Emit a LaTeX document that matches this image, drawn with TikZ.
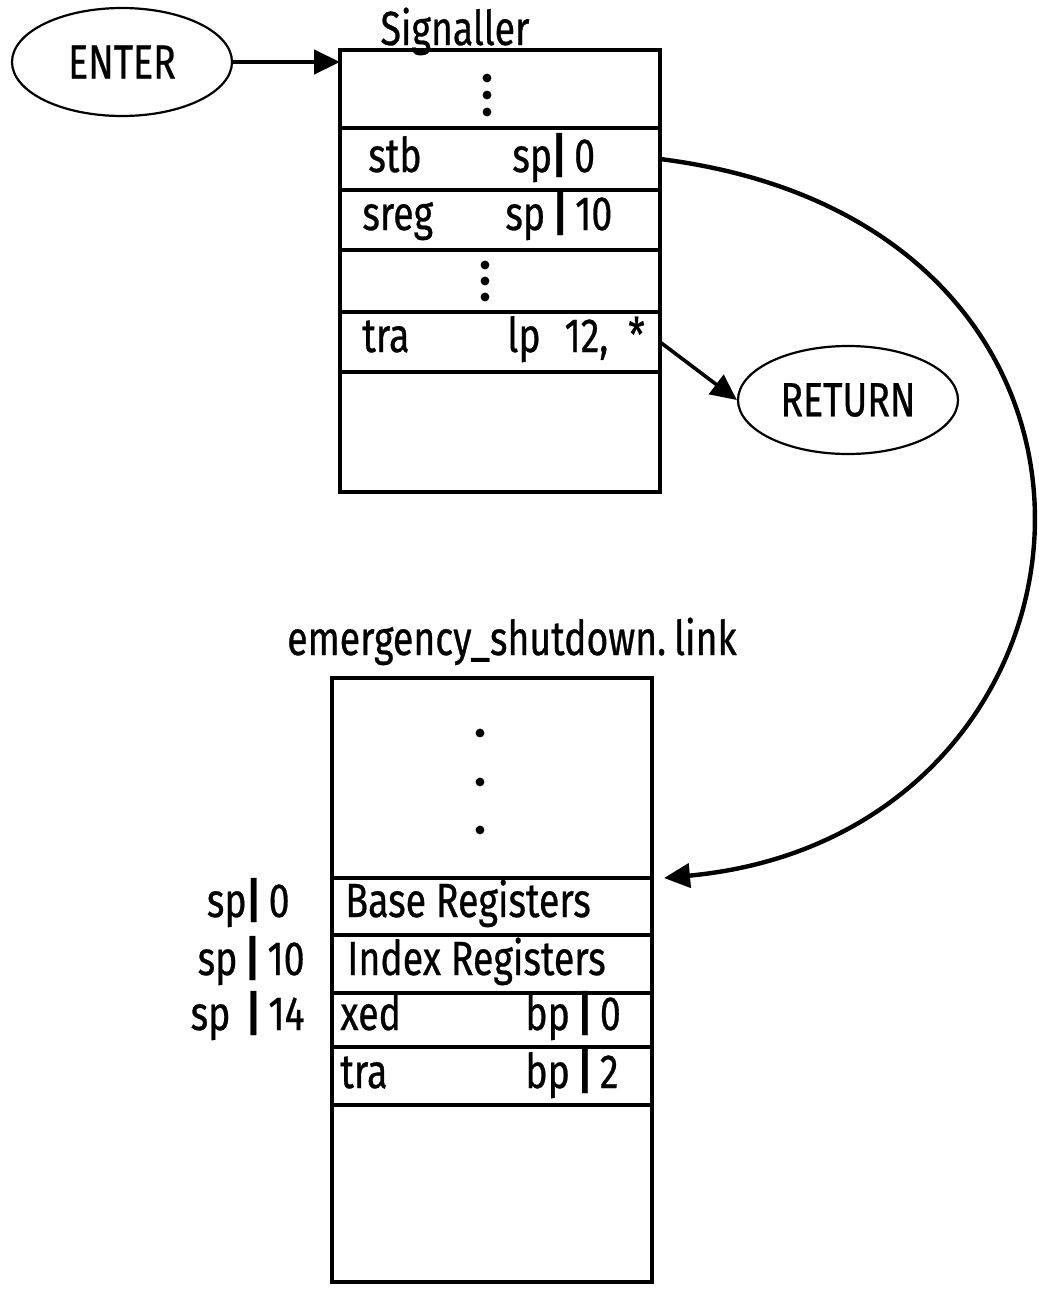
\documentclass[tikz,border=0pt]{standalone}
\usepackage{fontspec}
\setmainfont{Fira Sans}[FakeStretch=0.78, FakeBold=0.6]
\usetikzlibrary{shapes.geometric,arrows.meta,positioning}

\begin{document}
\begin{tikzpicture}[x=0.5pt,y=-0.5pt,
    cell/.style={draw, line width=2.2pt, minimum width=160pt, outer sep=0pt, inner sep=0pt},
    oval/.style={ellipse, draw, line width=1.1pt, minimum width=110pt, minimum height=54pt, inner sep=0pt, font=\fontsize{24}{28}\selectfont},
    txt/.style={font=\fontsize{24}{28}\selectfont, inner sep=0pt},
    link/.style={line width=2.2pt, -{Triangle[length=13pt,width=12pt]}}]
\useasboundingbox (0,0) rectangle (1039,1292);

\node[oval] (enter) at (122,62) {ENTER\hspace{10pt}};
\node[oval] (ret) at (848,400) {RETURN};

% Signaller frame
\node[txt, anchor=base] (sgname) at (455,45) {Signaller};
\node[cell, minimum height=39pt] (sg0) at (500,89) {};
\node[cell, minimum height=31pt, below=0pt of sg0] (sg1) {};
\node[cell, minimum height=30pt, below=0pt of sg1] (sg2) {};
\node[cell, minimum height=31pt, below=0pt of sg2] (sg3) {};
\node[cell, minimum height=30pt, below=0pt of sg3] (sg4) {};
\node[cell, minimum height=60pt, below=0pt of sg4] (sg5) {};
\foreach \y in {78,95,112} \fill (487,\y) circle (2.2pt);
\foreach \y in {265,281,297} \fill (485,\y) circle (2.2pt);
\node[txt, anchor=base west] (stbop) at (368,172) {stb};
\node[txt, anchor=base west] (stbarg) at (512,172) {sp\textbf{|}\,0};
\node[txt, anchor=base west] (sregop) at (362,230) {sreg};
\node[txt, anchor=base west] (sregarg) at (505,230) {sp\,\textbf{|}\,10};
\node[txt, anchor=base west] (traop) at (362,352) {tra};
\node[txt, anchor=base west] (traarg) at (507,352) {lp\hspace{12pt}12,\hspace{10pt}*};

% linkage frame
\node[txt, anchor=base] (lkname) at (512,655) {emergency\_shutdown.\,link};
\node[cell, minimum height=100pt] (lb0) at (492,778) {};
\node[cell, minimum height=28.5pt, below=0pt of lb0] (lb1) {};
\node[cell, minimum height=29pt, below=0pt of lb1] (lb2) {};
\node[cell, minimum height=27pt, below=0pt of lb2] (lb3) {};
\node[cell, minimum height=29pt, below=0pt of lb3] (lb4) {};
\node[cell, minimum height=88.5pt, below=0pt of lb4] (lb5) {};
\foreach \y in {733,782,830} \fill (480,\y) circle (2.2pt);
\node[txt, anchor=base west] (basetxt) at (345,917) {Base Registers};
\node[txt, anchor=base west] (idxtxt) at (347,975) {Index Registers};
\node[txt, anchor=base west] (xedop) at (340,1030) {xed};
\node[txt, anchor=base west] (xedarg) at (525,1030) {bp\,\textbf{|}\,0};
\node[txt, anchor=base west] (tratwo) at (340,1088) {tra};
\node[txt, anchor=base west] (traargtwo) at (525,1088) {bp\,\textbf{|}\,2};
\node[txt, anchor=base east] (off0) at (290,917) {sp\textbf{|}\,0};
\node[txt, anchor=base east] (off10) at (305,975) {sp\,\textbf{|}\,10};
\node[txt, anchor=base east] (off14) at (305,1030) {sp\,\,\textbf{|}\,14};

% connectors
\coordinate (c1) at (1185,225);
\coordinate (c2) at (1125,835);
\draw[link] (enter.east) -- (enter.east -| sg0.west);
\draw[link, line width=1.8pt] (sg4.east) -- (ret.west);
\draw[link] (sg1.east) .. controls (c1) and (c2) .. ([xshift=6pt]lb0.south east);
\end{tikzpicture}
\end{document}
